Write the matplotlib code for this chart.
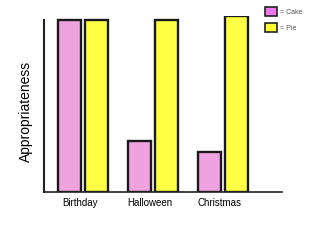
import numpy as np
import matplotlib
matplotlib.use('Agg')
import matplotlib.pyplot as plt
from matplotlib.patches import Patch

plt.rcParams['font.family'] = ['Liberation Sans', 'DejaVu Sans']

categories = ['Birthday', 'Halloween', 'Christmas']
cake = [98, 29, 23]
pie = [98, 98, 100]
series_names = ['= Cake', '= Pie']

fig = plt.figure(figsize=(3.2, 2.4), dpi=100)
ax = fig.add_axes([0.1375, 0.2, 0.744, 0.733])

x = np.arange(len(categories))
w = 0.33
ax.bar(x - 0.19, cake, w, color='#eea3df', edgecolor='#1a1a1a', linewidth=1.7)
ax.bar(x + 0.19, pie, w, color='#ffff44', edgecolor='#1a1a1a', linewidth=1.7)

ax.set_xlim(-0.557, 2.843)
ax.set_ylim(0, 100)
for s in ['top', 'right']:
    ax.spines[s].set_visible(False)
ax.spines['left'].set_bounds(0, 98)
ax.spines['left'].set_linewidth(1.5)
ax.spines['bottom'].set_linewidth(1.2)
ax.spines['left'].set_color('#222222')
ax.spines['bottom'].set_color('#222222')
ax.set_yticks([])
ax.set_xticks(x - 0.05, categories, fontsize=7)
ax.tick_params(axis='x', length=0, pad=4)
ax.set_ylabel('Appropriateness', fontsize=10)
ax.yaxis.set_label_coords(-0.046, 0.46)

handles = [Patch(facecolor='#ee77ee', edgecolor='#222222', linewidth=1.2),
           Patch(facecolor='#ffff33', edgecolor='#222222', linewidth=1.2)]
fig.legend(handles, series_names, loc='upper left', bbox_to_anchor=(0.81, 0.995),
           frameon=False, fontsize=5, handlelength=1.6, handleheight=1.44,
           handletextpad=0.5, labelspacing=1.1, labelcolor='#555555')

fig.savefig('out.png', dpi=100)
